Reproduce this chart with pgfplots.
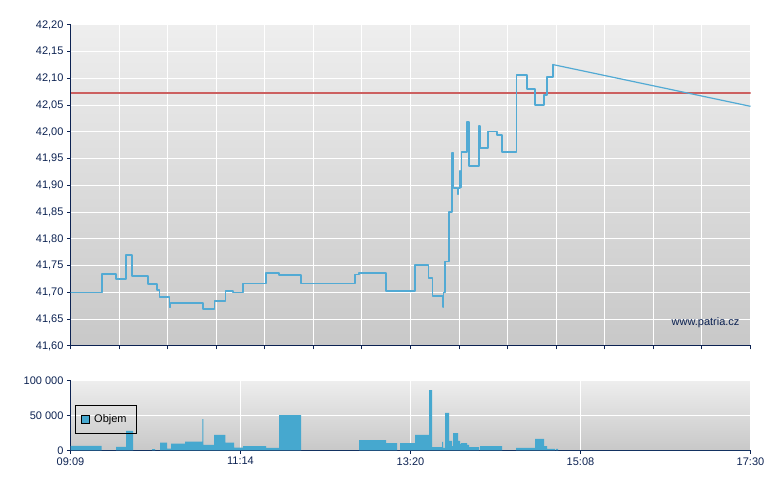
\documentclass[border=0pt]{standalone}
\usepackage{pgfplots}
\pgfplotsset{compat=1.18}
\usepackage{fontspec}
\setmainfont{Liberation Sans}
\definecolor{navy}{RGB}{12,34,82}
\definecolor{lineblue}{RGB}{82,170,212}
\definecolor{barblue}{RGB}{70,168,207}
\definecolor{refred}{RGB}{204,96,96}
\definecolor{bgtop}{RGB}{238,238,238}
\definecolor{bgbot}{RGB}{200,200,200}
\begin{document}
\begin{tikzpicture}
\useasboundingbox (0,0) rectangle (780bp,490bp);
\pgfplotsset{
  common/.style={
    scale only axis, width=680bp,
    xmin=70.5, xmax=750.5,
    axis x line*=bottom, axis y line*=left,
    axis line style={-, draw=navy, line width=1bp},
    tick align=outside, major tick length=3.5bp,
    tick style={navy, line width=1bp},
    grid=major, major grid style={white, line width=1bp},
    ticklabel style={font=\fontsize{11bp}{13bp}\selectfont, text=navy},
    /pgf/number format/assume math mode=true,
    axis background/.style={top color=bgtop, bottom color=bgbot},
  }
}
% ---------- price ----------
\begin{axis}[common,
  at={(70.5bp,144bp)}, anchor=south west, height=321bp,
  ymin=41.6, ymax=42.2,
  ytick={41.60,41.65,41.70,41.75,41.80,41.85,41.90,41.95,42.00,42.05,42.10,42.15,42.20},
  yticklabel style={/pgf/number format/.cd, fixed, fixed zerofill, precision=2, use comma},
  xtick={70.5,119.07,167.64,216.21,264.79,313.36,361.93,410.5,459.07,507.64,556.21,604.79,653.36,701.93,750.5},
  xticklabels={},
]
\addplot[fill=refred, draw=none] coordinates {(70.5,42.0701) (750.5,42.0701) (750.5,42.0739) (70.5,42.0739)} --cycle;
\addplot[const plot, draw=lineblue, line width=1.6bp, line join=round, line cap=round] coordinates {
(70.5,41.700) (101.7,41.735) (116,41.725) (125.7,41.770) (132,41.731)
(147.7,41.716) (157,41.705) (159.3,41.692) (169.3,41.672) (170.3,41.680)
(202.7,41.669) (214.3,41.684) (225.3,41.703) (233,41.700) (242.7,41.717)
(266,41.737) (279,41.733) (301,41.717) (355,41.734) (359,41.737)
(385.7,41.703) (415,41.751) (428.3,41.727) (432.3,41.693) (442.7,41.673)
(443.5,41.700) (444.7,41.758) (448.7,41.850) (451.7,41.961) (453.3,41.895)
(457.3,41.884) (458.3,41.895) (459.7,41.927) (460.3,41.897) (461.3,41.963)
(466.7,42.019) (469,41.936) (478.7,42.011) (480,41.970) (487.7,42.001)
(496.7,41.994) (502,41.963) (516.3,42.106) (526.7,42.080) (534.7,42.050)
(544,42.069) (546.7,42.103) (553,42.126)
};
\addplot[draw=lineblue, line width=1.2bp] coordinates {(553,42.126) (750.5,42.048)};
\node[anchor=east, text=navy, font=\fontsize{11bp}{13bp}\selectfont] at (rel axis cs:0.989,0.0717) {www.patria.cz};
\end{axis}
% ---------- volume ----------
\begin{axis}[common,
  at={(70.5bp,39.7bp)}, anchor=south west, height=70bp,
  ymin=0, ymax=100000,
  ytick={0,50000,100000}, yticklabels={0,50 000,100 000},
  scaled y ticks=false,
  xtick={70.5,240.5,410.5,580.5,750.5},
  xticklabels={09:09,11:14,13:20,15:08,17:30},
  legend style={at={(0.0066,0.647)}, anchor=north west, draw=black, line width=0.8bp,
    fill=none, font=\fontsize{11bp}{13bp}\selectfont, inner xsep=5.5bp, inner ysep=7.5bp,
    nodes={inner xsep=4.5bp}},
  legend image code/.code={\draw[fill=barblue, draw=black, line width=0.8bp] (0bp,-4bp) rectangle (8bp,4bp);},
]
\addplot[const plot, fill=barblue, draw=none] coordinates {
(70.5,6400) (101.7,0) (116,5000) (126,27600) (133,0) (152,1800) (155,0)
(160,10900) (167,2500) (171,9400) (185,12300) (202.3,44700) (203.3,7600)
(214,21900) (225.3,10900) (234,3700) (243,6100) (266,3300) (279,50400)
(301,0) (359,14700) (386,10400) (397,0) (400,10400) (415,21900)
(429,86100) (432,4700) (442,11900) (443,3300) (445,53300) (449,13300)
(452,6000) (453,24700) (458,13300) (460,9000) (461,10400) (467,7600)
(469,4700) (479,0) (480,6100) (502,0) (516,3300) (535,16200) (544,6100)
(547,1900) (555,0) (556,1900) (558,0) (750.5,0)
} \closedcycle;
\addlegendentry{Objem}
\end{axis}
\end{tikzpicture}
\end{document}
